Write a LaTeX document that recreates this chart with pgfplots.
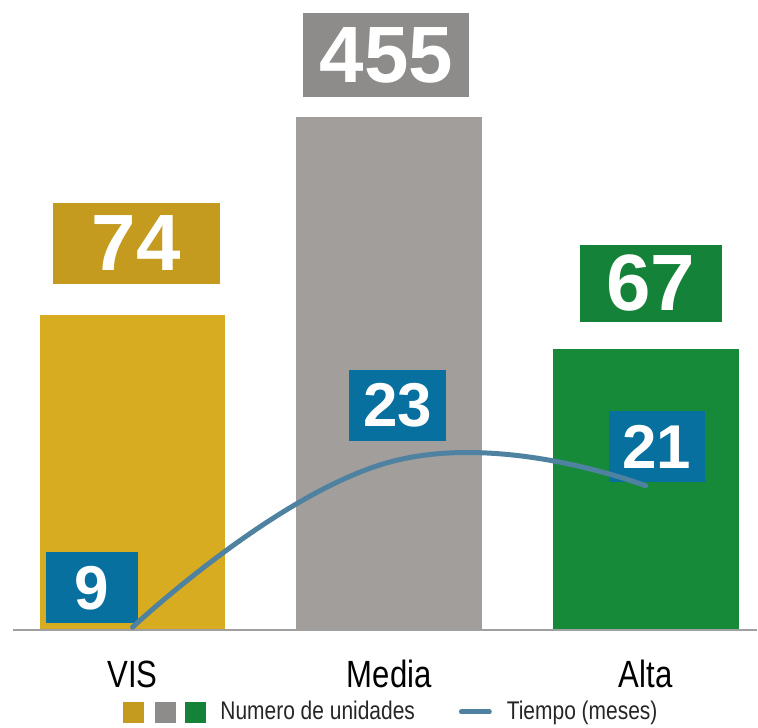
\documentclass[border=0pt]{standalone}
\usepackage{fontspec}
\setmainfont{Liberation Sans}
\newfontfamily\condfont[FakeStretch=0.82]{Liberation Sans}
\usepackage{pgfplots}
\pgfplotsset{compat=1.18}
\definecolor{cVIS}{HTML}{D8AC21}
\definecolor{cVISd}{HTML}{C49A1F}
\definecolor{cMed}{HTML}{A29E9B}
\definecolor{cMedd}{HTML}{8E8C8A}
\definecolor{cAlt}{HTML}{178A3A}
\definecolor{cAltd}{HTML}{148238}
\definecolor{cBlue}{HTML}{08709F}
\definecolor{cLine}{HTML}{4E82A0}
\definecolor{cBase}{HTML}{A0A0A0}
\begin{document}
\begin{tikzpicture}
\begin{axis}[
  at={(0,0)}, anchor=south west,
  scale only axis, width=379pt, height=364pt,
  xmin=-0.51685, xmax=2.43257, ymin=-97, ymax=631,
  axis line style={draw=none}, major tick length=0pt, ytick=\empty,
  xtick={0,1,2}, xticklabels={VIS,Media,Alta},
  xticklabel style={anchor=base, yshift=20pt, font=\condfont\fontsize{19}{19}\selectfont, text=black},
  clip=false,
  ybar, bar width=0.7237,
  legend style={at={(axis cs:-0.03825,-82)}, anchor=west, draw=none, fill=none,
    inner sep=0pt, outer sep=0pt,
    font=\condfont\fontsize{12.8}{14}\selectfont,
    nodes={inner sep=0pt, text=black!85},
    /tikz/every odd column/.append style={column sep=7.5pt},
    /tikz/every even column/.append style={column sep=22pt}},
  legend columns=2,
  legend cell align=left,
]
\addplot[fill=cVIS, draw=none, bar shift=0pt, forget plot] coordinates {(0,316)};
\addplot[fill=cMed, draw=none, bar shift=0pt, forget plot] coordinates {(1,514)};
\addplot[fill=cAlt, draw=none, bar shift=0pt, forget plot] coordinates {(2,282)};
\addlegendimage{legend image code/.code={
  \fill[cVISd] (0pt,-5pt) rectangle (10pt,5pt);
  \fill[cMedd] (16pt,-5pt) rectangle (26pt,5pt);
  \fill[cAltd] (31pt,-5pt) rectangle (41pt,5pt);
}}
\addlegendentry{Numero de unidades}
\addlegendimage{legend image code/.code={
  \draw[cLine, line width=2.5pt, line cap=round] (0pt,0pt) -- (14pt,0pt);
}}
\addlegendentry{Tiempo (meses)}
\draw[cBase, line width=1.3pt] (axis cs:-0.46626,0) -- (axis cs:2.43257,0);
\node[fill=cVISd, minimum width=83.5pt, minimum height=40.5pt, inner sep=0pt, text=white,
  font=\bfseries\fontsize{40}{40}\selectfont] at (axis cs:0.01428,387.5) {74};
\node[fill=cMedd, minimum width=83pt, minimum height=42pt, inner sep=0pt, text=white,
  font=\bfseries\fontsize{40}{40}\selectfont] at (axis cs:0.98899,576) {455};
\node[fill=cAltd, minimum width=71pt, minimum height=38.5pt, inner sep=0pt, text=white,
  font=\bfseries\fontsize{40}{40}\selectfont] at (axis cs:2.02012,347.5) {67};
\node[fill=cBlue, minimum width=46pt, minimum height=35.5pt, inner sep=0pt, text=white,
  font=\bfseries\fontsize{31}{31}\selectfont] at (axis cs:-0.15887,42.5) {9};
\node[fill=cBlue, minimum width=48.5pt, minimum height=36pt, inner sep=0pt, text=white,
  font=\bfseries\fontsize{31}{31}\selectfont] at (axis cs:1.03374,225) {23};
\node[fill=cBlue, minimum width=48pt, minimum height=35.5pt, inner sep=0pt, text=white,
  font=\bfseries\fontsize{31}{31}\selectfont] at (axis cs:2.04346,183.5) {21};
\end{axis}
\begin{axis}[
  at={(0,0)}, anchor=south west,
  scale only axis, width=379pt, height=364pt,
  xmin=-0.51685, xmax=2.43257, ymin=0.525, ymax=62.22,
  hide axis, clip=false,
]
\addplot[smooth, tension=0.8, color=cLine, line width=2.5pt, line cap=round] coordinates {(0,9) (1,23) (2,21)};
\end{axis}
\end{tikzpicture}
\end{document}
